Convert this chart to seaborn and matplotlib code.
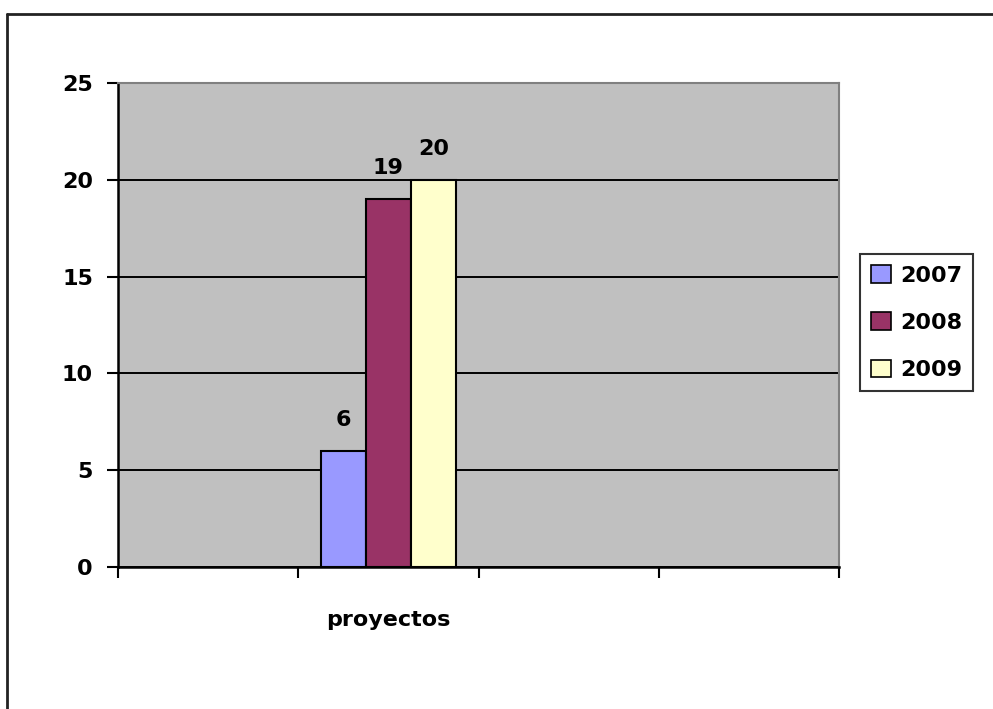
import matplotlib
matplotlib.use("Agg")
import matplotlib.pyplot as plt
import pandas as pd
import seaborn as sns
from matplotlib.lines import Line2D

sns.set_style("white")
plt.rcParams["font.family"] = ["DejaVu Sans"]
plt.rcParams["font.weight"] = "bold"
plt.rcParams["text.color"] = "black"
plt.rcParams["xtick.color"] = "black"
plt.rcParams["ytick.color"] = "black"

# slots on the category axis; only the second one carries data
SLOTS = ["s0", "proyectos", "s2", "s3"]
SLOT_LABELS = ["", "proyectos", "", ""]
YEARS = ["2007", "2008", "2009"]
VALUES = [6, 19, 20]
COLORS = ["#9999FF", "#993366", "#FFFFCC"]

FS = 16

df = pd.DataFrame({"categoria": ["proyectos"] * 3, "anio": YEARS, "valor": VALUES})

fig = plt.figure(figsize=(9.93, 7.09), dpi=100)
ax = fig.add_axes([118 / 993, 1 - 567 / 709, (839 - 118) / 993, (567 - 83) / 709])
ax.set_facecolor("#C0C0C0")

sns.barplot(
    data=df, x="categoria", y="valor", hue="anio", order=SLOTS,
    hue_order=YEARS, palette=COLORS, width=0.75, edgecolor="black",
    linewidth=1.5, saturation=1, ax=ax, zorder=3,
)

for cont in ax.containers:
    ax.bar_label(cont, padding=15, fontsize=FS, fontweight="bold", color="black")

ax.set_ylim(0, 25)
ax.set_xlim(-0.5, len(SLOTS) - 0.5)
ax.set_yticks(range(0, 26, 5))
ax.yaxis.grid(True, color="black", linewidth=1.4, zorder=1)
ax.set_axisbelow(True)

# ticks at slot boundaries, label in the middle of each slot
ax.set_xticks([i - 0.5 for i in range(len(SLOTS) + 1)])
ax.set_xticklabels([])
ax.set_xticks(range(len(SLOTS)), minor=True)
ax.set_xticklabels(SLOT_LABELS, minor=True, fontsize=FS, fontweight="bold")
ax.tick_params(axis="x", which="minor", bottom=True, length=0, pad=31)
ax.tick_params(axis="x", which="major", bottom=True, direction="out", length=8,
               width=1.5, color="black")
ax.tick_params(axis="y", left=True, direction="out", length=8, width=1.5, color="black",
               labelsize=FS, pad=10)
ax.set_xlabel("")
ax.set_ylabel("")

for s in ["left", "bottom"]:
    ax.spines[s].set_color("black")
    ax.spines[s].set_linewidth(1.8)
for s in ["top", "right"]:
    ax.spines[s].set_color("#808080")
    ax.spines[s].set_linewidth(1.5)

leg = ax.legend(
    title=None, loc="upper left", bbox_to_anchor=(860 / 993, 1 - 254 / 709),
    bbox_transform=fig.transFigure, frameon=True, fancybox=False,
    edgecolor="black", prop={"weight": "bold", "size": FS},
    handlelength=0.9, handleheight=0.85, handletextpad=0.4,
    labelspacing=1.2, borderpad=0.5, borderaxespad=0,
)
leg.get_frame().set_linewidth(1.5)
for h in leg.legend_handles:
    h.set_edgecolor("black")
    h.set_linewidth(1.2)

# outer chart frame (only left and top visible in the crop)
fig.add_artist(Line2D([7 / 993, 7 / 993], [0, 1 - 14 / 709], color="#222222",
                      linewidth=2, transform=fig.transFigure))
fig.add_artist(Line2D([7 / 993, 1], [1 - 14 / 709, 1 - 14 / 709], color="#222222",
                      linewidth=2, transform=fig.transFigure))

fig.savefig("out.png", dpi=100)
